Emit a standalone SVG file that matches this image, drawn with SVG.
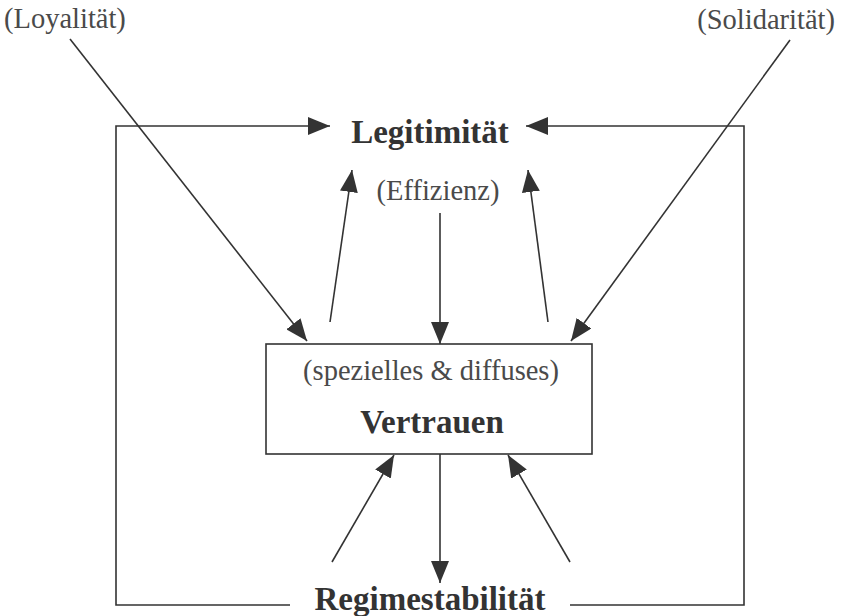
<svg xmlns="http://www.w3.org/2000/svg" width="841" height="616" viewBox="0 0 841 616">
  <style>
    .reg { font-family: "Liberation Serif", "Times New Roman", serif; font-size: 28.5px; fill: #4a4a4a; }
    .bold { font-family: "Liberation Serif", "Times New Roman", serif; font-size: 33px; font-weight: bold; fill: #333; }
    .ln { stroke: #333; stroke-width: 1.6; fill: none; }
    .box { stroke: #333; stroke-width: 1.6; fill: #fff; }
  </style>
  <defs>
    <marker id="ah" markerUnits="userSpaceOnUse" markerWidth="23" markerHeight="18" refX="22" refY="9" orient="auto">
      <path d="M0,0 L22,9 L0,18 Z" fill="#333"/>
    </marker>
  </defs>
  <rect width="841" height="616" fill="#fff"/>

  <g id="connectors">
    <line class="ln" x1="70" y1="39" x2="307" y2="341" marker-end="url(#ah)"/>
    <line class="ln" x1="790" y1="40" x2="571" y2="341" marker-end="url(#ah)"/>
    <path class="ln" d="M290,605 L116,605 L116,126 L330,126" marker-end="url(#ah)"/>
    <path class="ln" d="M570,605 L744,605 L744,126 L526,126" marker-end="url(#ah)"/>
    <line class="ln" x1="330" y1="322" x2="352" y2="170" marker-end="url(#ah)"/>
    <line class="ln" x1="548" y1="322" x2="528" y2="170" marker-end="url(#ah)"/>
    <line class="ln" x1="440" y1="213" x2="440" y2="344" marker-end="url(#ah)"/>
    <line class="ln" x1="332" y1="562" x2="394" y2="455" marker-end="url(#ah)"/>
    <line class="ln" x1="570" y1="562" x2="508" y2="455" marker-end="url(#ah)"/>
    <line class="ln" x1="440" y1="454" x2="440" y2="583" marker-end="url(#ah)"/>
  </g>

  <g id="loyalitaet">
    <text class="reg" x="4" y="28">(Loyalität)</text>
  </g>
  <g id="solidaritaet">
    <text class="reg" x="835" y="29" text-anchor="end">(Solidarität)</text>
  </g>
  <g id="legitimitaet">
    <text class="bold" x="430" y="143" text-anchor="middle">Legitimität</text>
  </g>
  <g id="effizienz">
    <text class="reg" x="438" y="200" text-anchor="middle">(Effizienz)</text>
  </g>
  <g id="vertrauen">
    <rect class="box" x="266" y="344" width="326" height="110"/>
    <text class="reg" x="431" y="380" text-anchor="middle">(spezielles &amp; diffuses)</text>
    <text class="bold" x="432" y="433" text-anchor="middle">Vertrauen</text>
  </g>
  <g id="regimestabilitaet">
    <text class="bold" x="430" y="610" text-anchor="middle">Regimestabilität</text>
  </g>
</svg>
